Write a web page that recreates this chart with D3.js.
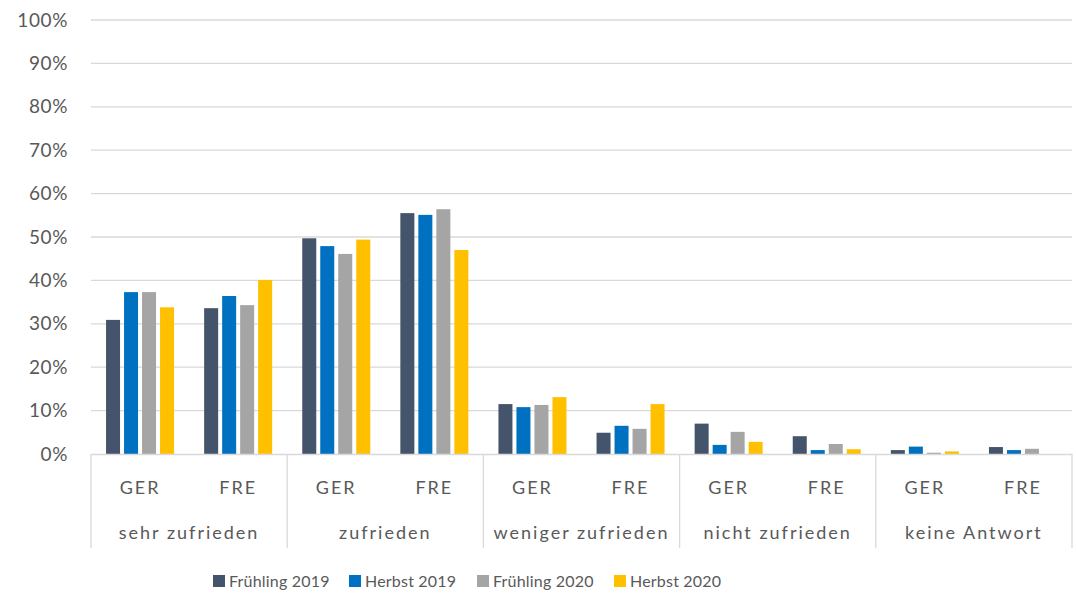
<!DOCTYPE html>
<html>
<head>
<meta charset="utf-8">
<script src="https://cdn.jsdelivr.net/npm/d3@7"></script>
<style>
  body { margin: 0; background: #fff; }
  text { font-family: Lato, "Open Sans", sans-serif; fill: #595959; }
</style>
</head>
<body>
<script>
  // data
  var categories = ["sehr zufrieden", "zufrieden", "weniger zufrieden", "nicht zufrieden", "keine Antwort"];
  var countries = ["GER", "FRE"];
  var series = ["Frühling 2019", "Herbst 2019", "Frühling 2020", "Herbst 2020"];
  var colors = ["#44546a", "#0070c0", "#a5a5a5", "#ffc000"];
  var yTicks = [0, 10, 20, 30, 40, 50, 60, 70, 80, 90, 100];

  // values in %, one row per category+country, in series order
  var fruehling2019 = [30.9, 33.6, 49.7, 55.5, 11.5, 4.9, 7.0, 4.1, 0.9, 1.6];
  var herbst2019    = [37.3, 36.4, 47.9, 55.1, 10.8, 6.5, 2.1, 0.9, 1.7, 0.9];
  var fruehling2020 = [37.3, 34.3, 46.1, 56.4, 11.3, 5.8, 5.1, 2.3, 0.3, 1.2];
  var herbst2020    = [33.8, 40.1, 49.4, 47.0, 13.1, 11.5, 2.8, 1.1, 0.6, 0.0];
  var seriesValues = [fruehling2019, herbst2019, fruehling2020, herbst2020];

  var width = 1076, height = 598;
  var plotLeft = 91, plotRight = 1072, plotTop = 20, plotBottom = 454;

  var svg = d3.select("body").append("svg")
      .attr("width", width)
      .attr("height", height);

  var y = d3.scaleLinear().domain([0, 100]).range([plotBottom, plotTop]);
  var x0 = d3.scaleBand().domain(categories).range([plotLeft, plotRight]);
  var x1 = d3.scaleBand().domain(countries).range([0, x0.bandwidth()]);
  var mid = x1.bandwidth() / 2;
  var x2 = d3.scaleBand().domain(series).range([mid - 36, mid + 36])
      .paddingInner(0.222).paddingOuter(0.111);

  // gridlines
  svg.append("g").selectAll("line").data(yTicks.slice(1)).enter()
    .append("line")
      .attr("x1", plotLeft).attr("x2", plotRight)
      .attr("y1", function(d) { return y(d); })
      .attr("y2", function(d) { return y(d); })
      .attr("stroke", "#d9d9d9").attr("stroke-width", 1.3);

  // y labels
  svg.append("g").selectAll("text").data(yTicks).enter()
    .append("text")
      .attr("x", 68)
      .attr("y", function(d) { return y(d); })
      .attr("dy", "0.35em")
      .attr("text-anchor", "end")
      .attr("font-size", 19)
      .attr("letter-spacing", 0.6)
      .text(function(d) { return d + "%"; });

  // bars
  var rows = [];
  categories.forEach(function(c, ci) {
    countries.forEach(function(k, ki) {
      series.forEach(function(s, si) {
        rows.push({cat: c, country: k, s: s, si: si, v: seriesValues[si][ci * 2 + ki]});
      });
    });
  });

  svg.append("g").selectAll("rect").data(rows.filter(function(d) { return d.v > 0; })).enter()
    .append("rect")
      .attr("x", function(d) { return x0(d.cat) + x1(d.country) + x2(d.s); })
      .attr("y", function(d) { return y(d.v); })
      .attr("width", x2.bandwidth())
      .attr("height", function(d) { return y(0) - y(d.v); })
      .attr("fill", function(d) { return colors[d.si]; });

  // x axis line and category separators
  svg.append("line")
    .attr("x1", plotLeft).attr("x2", plotRight)
    .attr("y1", plotBottom + 0.5).attr("y2", plotBottom + 0.5)
    .attr("stroke", "#d9d9d9").attr("stroke-width", 1.3);

  var seps = categories.map(function(c) { return x0(c); }).concat([plotRight]);
  svg.append("g").selectAll("line").data(seps).enter()
    .append("line")
      .attr("x1", function(d) { return d; }).attr("x2", function(d) { return d; })
      .attr("y1", plotBottom).attr("y2", 548)
      .attr("stroke", "#d9d9d9").attr("stroke-width", 1.3);

  // country labels
  var cg = svg.append("g");
  categories.forEach(function(c) {
    countries.forEach(function(k) {
      cg.append("text")
        .attr("x", x0(c) + x1(k) + mid)
        .attr("y", 488)
        .attr("dy", "0.35em")
        .attr("text-anchor", "middle")
        .attr("font-size", 18)
        .attr("letter-spacing", 2)
        .text(k);
    });
  });

  // category labels
  svg.append("g").selectAll("text").data(categories).enter()
    .append("text")
      .attr("x", function(d) { return x0(d) + x0.bandwidth() / 2; })
      .attr("y", 533)
      .attr("dy", "0.35em")
      .attr("text-anchor", "middle")
      .attr("font-size", 18)
      .attr("letter-spacing", 2)
      .text(function(d) { return d; });

  // legend
  var legendX = [213, 349, 477, 614];
  var lg = svg.append("g");
  series.forEach(function(s, i) {
    lg.append("rect")
      .attr("x", legendX[i]).attr("y", 575)
      .attr("width", 12).attr("height", 12)
      .attr("fill", colors[i]);
    lg.append("text")
      .attr("x", legendX[i] + 16).attr("y", 581)
      .attr("dy", "0.35em")
      .attr("font-size", 16)
      .attr("letter-spacing", 0.2)
      .text(s);
  });
</script>
</body>
</html>
